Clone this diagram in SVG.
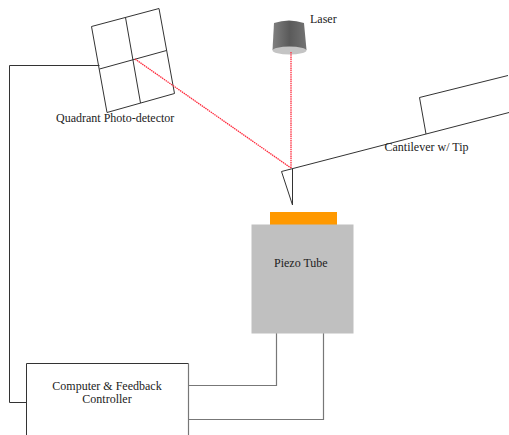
<svg xmlns="http://www.w3.org/2000/svg" width="509" height="435" viewBox="0 0 509 435">
<defs>
<linearGradient id="laserBody" x1="0" x2="1" y1="0" y2="0"><stop offset="0" stop-color="#808080"/><stop offset="0.5" stop-color="#5a5a5a"/><stop offset="1" stop-color="#737373"/></linearGradient>
</defs>
<style>
.l{fill:none;stroke:#333;stroke-width:1}
.b{fill:none;stroke:#777;stroke-width:1.2}
.r{fill:none;stroke:#ff2a3c;stroke-width:1.3;stroke-dasharray:1.5 .7}
text{font-family:"Liberation Serif","Times New Roman",serif;font-size:12px;fill:#222}
</style>
<rect width="509" height="435" fill="#fff"/>
<g id="connectors">
<path class="l" d="M99.500 65.500H9.500V402.500H26"/>
<path class="b" d="M189 385.500H276.500V333"/>
<path class="b" d="M189 419.500H323.500V333"/>
</g>
<g id="photodetector">
<path class="l" d="M91.500 26.500L159 8.500L174.500 93.500L107 112.500Z"/>
<path class="l" d="M125.500 17.500L140.500 103"/>
<path class="l" d="M99.500 69L166.500 50.500"/>
<text x="56" y="121.500">Quadrant Photo-detector</text>
</g>
<g id="laser">
<path d="M274 23Q289 18 304 23L306.500 50H272.500Z" fill="url(#laserBody)"/>
<ellipse cx="289.500" cy="50.500" rx="17" ry="4" fill="#c4c4c4"/>
<text x="310" y="23">Laser</text>
</g>
<g id="beam">
<path class="r" d="M291 52V168"/>
<path class="r" d="M135 59L291 168"/>
</g>
<g id="cantilever">
<path class="l" d="M509 112.500L293 168.500L281.500 171.500L292.500 205V168.500"/>
<path class="l" d="M426 134L419.500 97.500L508 75.500"/>
<text x="384.500" y="151">Cantilever w/ Tip</text>
</g>
<g id="sample"><rect x="270" y="212" width="67" height="13" fill="#ff9900"/></g>
<g id="piezo">
<rect x="251.500" y="224.500" width="102" height="109" fill="#c0c0c0"/>
<text x="274" y="267">Piezo Tube</text>
</g>
<g id="controller">
<path class="l" d="M26.500 435V363.500H188.500"/>
<path class="b" d="M188.500 363.500V435"/>
<text x="107" y="389.500" text-anchor="middle">Computer &amp; Feedback</text>
<text x="107" y="403" text-anchor="middle">Controller</text>
</g>
</svg>
